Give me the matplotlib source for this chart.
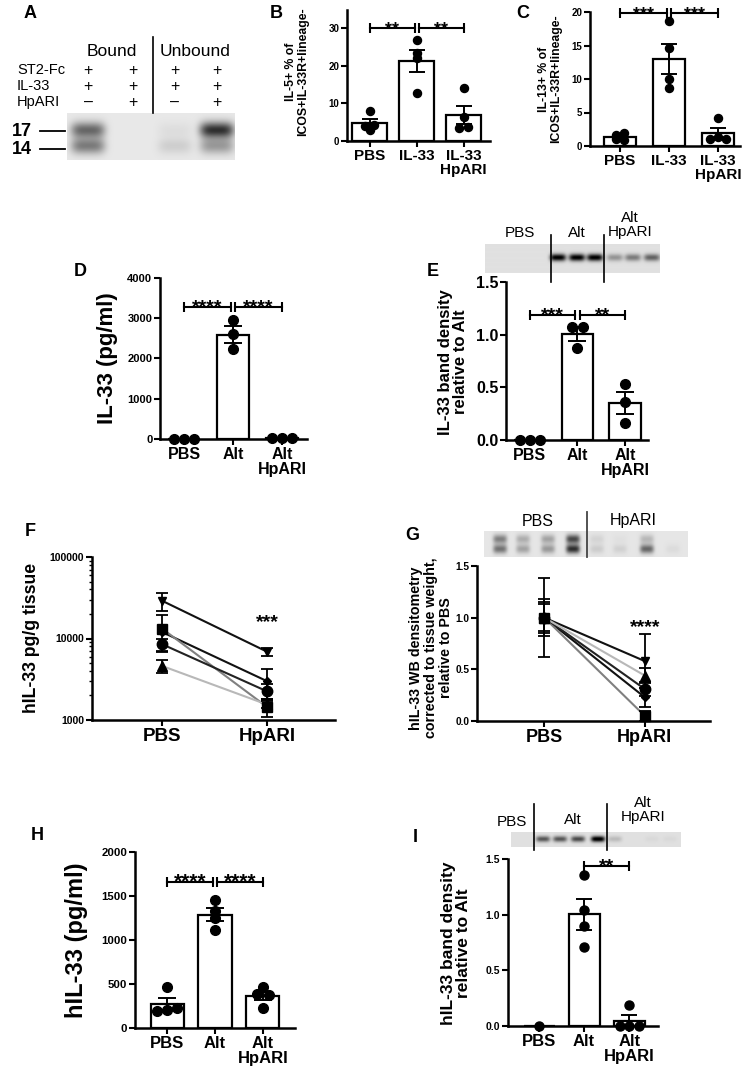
import numpy as np
import matplotlib
matplotlib.use("Agg")
import matplotlib.pyplot as plt
from matplotlib.ticker import LogLocator, NullFormatter

plt.rcParams['font.family'] = ['Liberation Sans', 'DejaVu Sans']
plt.rcParams['font.weight'] = 'bold'

W, H = 744, 1080

# ---------------- data ----------------
# A: ST2-Fc pull-down
a_cols = ['Bound', 'Unbound']
a_rows = ['ST2-Fc', 'IL-33', 'HpARI']
a_signs = [['+', '+', '+', '+'],
           ['+', '+', '+', '+'],
           ['–', '+', '–', '+']]
a_kda = ['17', '14']
a_band17 = [0.50, 0.0, 0.04, 0.72]
a_band14 = [0.42, 0.0, 0.10, 0.30]

# B / C: ILC2 cytokine staining
bc_groups = ['PBS', 'IL-33', 'IL-33\nHpARI']
b_points = [[8.0, 4.2, 4.0, 2.7], [27.0, 23.4, 22.0, 12.7], [14.0, 6.2, 3.6, 3.4]]
c_points = [[1.9, 1.6, 1.0, 0.9], [18.7, 14.6, 10.0, 8.6], [4.2, 1.3, 1.0, 1.1]]

# D / E: mouse BAL IL-33
de_groups = ['PBS', 'Alt', 'Alt\nHpARI']
d_points = [[0, 0, 0], [2950, 2600, 2230], [30, 25, 30]]
e_points = [[0, 0, 0], [1.07, 1.07, 0.87], [0.53, 0.36, 0.16]]
e_blot = [0, 0, 0, 0.9, 0.9, 0.9, 0.3, 0.4, 0.5]

# F / G: human lung explants
fg_groups = ['PBS', 'HpARI']
f_values = [[29000, 6900], [12000, 3000], [13200, 1450], [8500, 2250], [4600, 1550]]
f_sd = [[7500, 850], [0, 1200], [6300, 350], [1500, 500], [800, 150]]
g_values = [[1.0, 0.58], [1.0, 0.23], [1.0, 0.05], [1.0, 0.31], [1.0, 0.44]]
g_sd = [[0.38, 0.26], [0.13, 0.09], [0.18, 0.05], [0.15, 0.07], [0.0, 0.07]]
g_blot_upper = [0.40, 0.22, 0.26, 0.62, 0.07, 0.02, 0.18, 0.0]
g_blot_lower = [0.45, 0.26, 0.30, 0.72, 0.10, 0.08, 0.50, 0.04]

# H / I: hIL-33 transgenic mice
h_points = [[469, 210, 190, 230], [1455, 1330, 1250, 1110], [469, 383, 370, 231]]
i_points = [[0], [1.36, 1.04, 0.90, 0.71], [0.19, 0.0, 0.0, 0.0]]
i_blot = [0, 0.55, 0.55, 0.6, 0.95, 0.15, 0.0, 0.03, 0.03]

# ---------------- helpers ----------------
fig = plt.figure(figsize=(W / 100, H / 100), dpi=100)
ov = fig.add_axes([0, 0, 1, 1])
ov.set_xlim(0, W)
ov.set_ylim(H, 0)
ov.axis('off')
ov.set_zorder(10)


def px_axes(x0, y0, x1, y1):
    return fig.add_axes([x0 / W, 1 - y1 / H, (x1 - x0) / W, (y1 - y0) / H])


def style(ax, tick_size, xlab_size):
    for s in ['top', 'right']:
        ax.spines[s].set_visible(False)
    for s in ['left', 'bottom']:
        ax.spines[s].set_linewidth(1.8)
    ax.tick_params(direction='out', width=1.5, length=4, color='black')
    ax.tick_params(axis='y', labelsize=tick_size, pad=1.5)
    ax.tick_params(axis='x', labelsize=xlab_size, pad=2)


def swarm(ax, xc, vals, ms):
    d = ms * 100 / 72 * 1.05
    ppx = ax.transData.transform((xc + 1, 0))[0] - ax.transData.transform((xc, 0))[0]
    ys = [ax.transData.transform((xc, v))[1] for v in vals]
    placed = []
    for y in ys:
        cands = [0.0]
        for px, py in placed:
            dy = abs(y - py)
            if dy < d:
                dx = np.sqrt(d * d - dy * dy)
                cands += [px - dx, px + dx]
        cands.sort(key=abs)
        for c in cands:
            if all((c - px) ** 2 + (y - py) ** 2 >= d * d - 1e-6 for px, py in placed):
                break
        placed.append((c, y))
    offs = np.array([p[0] for p in placed])
    ys = np.array(ys)
    done = np.zeros(len(ys), bool)
    for k in range(len(ys)):
        if done[k]:
            continue
        row = np.abs(ys - ys[k]) < 0.35 * d
        offs[row] -= offs[row].mean()
        done |= row
    return offs / ppx


def brackets(ax, sigs, y, star_size):
    ends = [e for s in sigs for e in s[:2]]
    for i, j, s in sigs:
        xa = i + (0.045 if ends.count(i) > 1 else 0)
        xb = j - (0.045 if ends.count(j) > 1 else 0)
        ax.plot([xa, xb], [y, y], color='black', lw=1.5, marker='|', ms=7, mew=1.5,
                clip_on=False, zorder=5)
        ax.annotate(s, ((xa + xb) / 2, y), xytext=(0, -4), textcoords='offset points',
                    ha='center', va='baseline', fontsize=star_size, annotation_clip=False)


def bar_panel(box, groups, pts, ylim, yticks, fmt, xlim, width, tick_size, xlab_size,
              ms, sigs, sig_y, star_size, cap):
    ax = px_axes(*box)
    ax.set_xlim(*xlim)
    ax.set_ylim(*ylim)
    for i, p in enumerate(pts):
        p = np.asarray(p, float)
        m = p.mean()
        ax.bar(i, m, width=width, facecolor='white', edgecolor='black', linewidth=1.6, zorder=2)
        if len(p) > 1:
            se = p.std(ddof=1) / np.sqrt(len(p))
            if se > 0:
                ax.errorbar(i, m, yerr=se, color='black', capsize=cap, elinewidth=1.4,
                            capthick=1.4, zorder=3)
        offs = swarm(ax, i, p, ms)
        ax.plot(i + offs, p, 'o', color='black', ms=ms, zorder=4, clip_on=False)
    ax.set_yticks(yticks)
    ax.set_yticklabels([fmt.format(t) for t in yticks])
    ax.set_xticks(range(len(groups)))
    ax.set_xticklabels(groups, linespacing=1.0)
    style(ax, tick_size, xlab_size)
    brackets(ax, sigs, sig_y, star_size)
    return ax


def blot(x0, y0, x1, y1, bands, bg=0.89):
    ax = px_axes(x0, y0, x1, y1)
    nx, ny = int(4 * (x1 - x0)), int(4 * (y1 - y0))
    X, Y = np.meshgrid(np.linspace(x0, x1, nx), np.linspace(y0, y1, ny))
    img = np.full(X.shape, bg)
    for xc, yc, v, hw, hh in bands:
        img -= v * np.exp(-((X - xc) / hw) ** 4 - ((Y - yc) / hh) ** 2)
    ax.imshow(np.clip(img, 0, 1), cmap='gray', vmin=0, vmax=1, aspect='auto',
              extent=(x0, x1, y1, y0), interpolation='bilinear')
    ax.axis('off')


def txt(x, y, s, size, **kw):
    ov.text(x, y, s, fontsize=size, ha=kw.pop('ha', 'center'), va=kw.pop('va', 'center'), **kw)


def ylab(x, y, s, size, ls=1.0):
    ov.text(x, y, s, fontsize=size, rotation=90, ha='center', va='center',
            multialignment='center', linespacing=ls)


# ---------------- panel letters ----------------
for lab, (x, y) in zip('ABCDEFGHI', [(30, 14), (276, 13), (523, 13), (80, 272), (433, 271),
                                     (30, 532), (412, 535), (37, 836), (415, 837)]):
    txt(x, y, lab, 13)

# ---------------- A ----------------
lanes_a = [88, 133, 175, 217]
txt(112, 52, a_cols[0], 12.5, fontweight='normal')
txt(195, 52, a_cols[1], 12.5, fontweight='normal')
for r, (name, row) in enumerate(zip(a_rows, a_signs)):
    y = 70 + 16 * r
    txt(17, y, name, 10.5, ha='left', fontweight='normal')
    for x, s in zip(lanes_a, row):
        txt(x, y, s, 11.5, fontweight='normal')
ov.plot([153, 153], [37, 113], color='black', lw=1.2)
bands_a = [(x, 130, v, 17, 8) for x, v in zip(lanes_a, a_band17)]
bands_a += [(x, 146, v, 17, 8) for x, v in zip(lanes_a, a_band14)]
blot(67, 113, 235, 160, bands_a, bg=0.91)
for s, y in zip(a_kda, [131, 149]):
    txt(32, y, s, 13, ha='right')
    ov.plot([40, 65], [y, y], color='black', lw=1.3)

# ---------------- B / C ----------------
bar_panel((347, 9.6, 490, 140.5), bc_groups, b_points, (0, 35), [0, 10, 20, 30], '{:d}',
          (-0.48, 2.56), 0.73, 7, 11, 5.8, [(0, 1, '**'), (1, 2, '**')], 30, 13, 6)
ylab(297, 72, 'IL-5+ % of\nICOS+IL-33R+lineage-', 8.8)
bar_panel((590, 12, 740, 146), bc_groups, c_points, (0, 20), [0, 5, 10, 15, 20], '{:d}',
          (-0.61, 2.45), 0.65, 7, 11, 5.8, [(0, 1, '***'), (1, 2, '***')], 19.8, 13, 6)
ylab(550, 79, 'IL-13+ % of\nICOS+IL-33R+lineage-', 8.8)

# ---------------- D / E ----------------
bar_panel((160, 278, 307, 439), de_groups, d_points, (0, 4000), [0, 1000, 2000, 3000, 4000],
          '{:d}', (-0.49, 2.51), 0.67, 8, 11.5, 7, [(0, 1, '****'), (1, 2, '****')],
          3280, 14, 6.5)
ylab(107, 358, 'IL-33 (pg/ml)', 16)
bar_panel((506, 282, 648, 440), de_groups, e_points, (0, 1.5), [0, 0.5, 1.0, 1.5], '{:.1f}',
          (-0.5, 2.48), 0.67, 11.5, 11.5, 7, [(0, 1, '***'), (1, 2, '**')], 1.19, 14, 6.5)
ylab(453, 362, 'IL-33 band density\nrelative to Alt', 12, 0.95)
lanes_e = [500, 518, 537, 558, 577, 595, 615, 633, 652]
blot(485, 244, 660, 273, [(x, 258, v, 8, 3.5) for x, v in zip(lanes_e, e_blot)], bg=0.88)
for x in [551, 604]:
    ov.plot([x, x], [235, 282], color='black', lw=1.2)
txt(520, 233, 'PBS', 11, fontweight='normal')
txt(577, 233, 'Alt', 11, fontweight='normal')
txt(630, 225, 'Alt\nHpARI', 11, fontweight='normal', linespacing=1.05)

# ---------------- F / G ----------------
fg_markers = ['v', 'D', 's', 'o', '^']
fg_msize = [6, 4, 7.5, 7.5, 7.5]
fg_lines = ['#111111', '#111111', '#808080', '#222222', '#b8b8b8']


def paired_panel(box, values, sds, log=False):
    ax = px_axes(*box)
    if log:
        ax.set_yscale('log')
    for vals, sd, mk, msz, lc in zip(values, sds, fg_markers, fg_msize, fg_lines):
        ax.plot([1, 2], vals, color=lc, lw=1.5, zorder=2)
        for x, v, e in zip([1, 2], vals, sd):
            if e > 0:
                ax.errorbar(x, v, yerr=e, color='black', capsize=4.5, elinewidth=1.3,
                            capthick=1.3, zorder=3)
            ax.plot(x, v, marker=mk, color='black', ms=msz, zorder=4, clip_on=False)
    ax.set_xlim(0.33, 2.65)
    ax.set_xticks([1, 2])
    ax.set_xticklabels(fg_groups)
    return ax


ax = paired_panel((92, 557, 335, 720), f_values, f_sd, log=True)
ax.set_ylim(1e3, 1e5)
ax.set_yticks([1e3, 1e4, 1e5])
ax.set_yticklabels(['1000', '10000', '100000'])
ax.yaxis.set_minor_locator(LogLocator(subs=np.arange(2, 10)))
ax.yaxis.set_minor_formatter(NullFormatter())
style(ax, 7.5, 13.5)
ax.tick_params(axis='y', which='minor', length=2.5, width=1)
ax.annotate('***', (2, 15700), ha='center', va='center', fontsize=14)
ylab(32, 638, 'hIL-33 pg/g tissue', 12.7)

ax = paired_panel((477, 566, 710, 721), g_values, g_sd)
ax.set_ylim(0, 1.5)
ax.set_yticks([0, 0.5, 1.0, 1.5])
ax.set_yticklabels(['0.0', '0.5', '1.0', '1.5'])
style(ax, 7.3, 13)
ax.annotate('****', (2, 0.90), ha='center', va='center', fontsize=14)
ylab(431, 648, 'hIL-33 WB densitometry\ncorrected to tissue weight,\nrelative to PBS', 10.3, 1.1)
lanes_g = [500, 523, 548, 573, 597, 620, 647, 673]
bands_g = [(x, 539, v, 7, 4.5) for x, v in zip(lanes_g, g_blot_upper)]
bands_g += [(x, 549, v, 7, 4.5) for x, v in zip(lanes_g, g_blot_lower)]
blot(484, 531, 688, 557, bands_g, bg=0.9)
ov.plot([587, 587], [512, 557], color='#444444', lw=1.3)
txt(538, 521, 'PBS', 11.5, fontweight='normal')
txt(633, 521, 'HpARI', 11.5, fontweight='normal')

# ---------------- H / I ----------------
bar_panel((135, 852, 295, 1028), de_groups, h_points, (0, 2000), [0, 500, 1000, 1500, 2000],
          '{:d}', (-0.67, 2.67), 0.69, 8.2, 12, 7, [(0, 1, '****'), (1, 2, '****')],
          1660, 15, 6.5)
ylab(76, 940, 'hIL-33 (pg/ml)', 17)
bar_panel((508, 859, 658, 1026), de_groups, i_points, (0, 1.5), [0, 0.5, 1.0, 1.5], '{:.1f}',
          (-0.69, 2.64), 0.69, 7.5, 12, 6.5, [(1, 2, '**')], 1.44, 14, 6)
ylab(456, 943, 'hIL-33 band density\nrelative to Alt', 12.5, 0.95)
lanes_i = [520, 543, 560, 578, 598, 615, 633, 652, 670]
blot(511, 832, 681, 847, [(x, 839, v, 7, 3) for x, v in zip(lanes_i, i_blot)], bg=0.88)
for x in [534, 607]:
    ov.plot([x, x], [804, 850], color='black', lw=1.2)
txt(512, 822, 'PBS', 11, fontweight='normal')
txt(573, 820, 'Alt', 11, fontweight='normal')
txt(643, 810, 'Alt\nHpARI', 11, fontweight='normal', linespacing=1.05)

fig.savefig('out.png', dpi=100, facecolor='white')
